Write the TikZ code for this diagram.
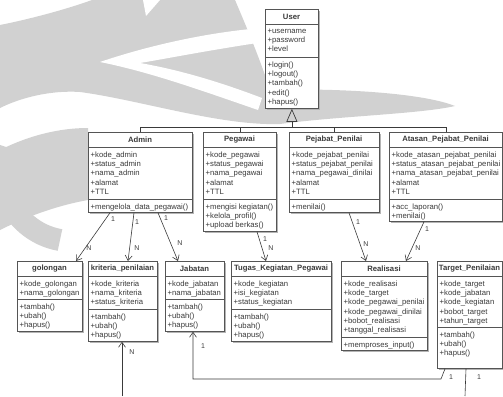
\documentclass[tikz,border=0pt]{standalone}
\usepackage{fontspec}
\setmainfont{Liberation Sans}
\usetikzlibrary{arrows.meta,calc}

\definecolor{wm}{gray}{0.82}
\definecolor{boxline}{HTML}{555555}
\definecolor{txt}{HTML}{3A3A3A}
\definecolor{shadowc}{HTML}{B4B4B4}

\tikzset{
  classbox/.style={draw=boxline, line width=0.8pt, fill=white, inner sep=0pt, anchor=north west},
  titletext/.style={font=\fontsize{7.7}{9}\selectfont\bfseries, text=txt, inner sep=0pt},
  membertext/.style={font=\fontsize{7.7}{9.3}\selectfont, text=txt, align=left, inner sep=0pt, anchor=north west},
  assoc/.style={draw=txt, line width=0.6pt, -{Straight Barb[length=5pt,width=7pt]}},
  plainlink/.style={draw=txt, line width=0.6pt},
  genlink/.style={draw=txt, line width=0.7pt},
  gentip/.style={draw=txt, line width=0.7pt, -{Triangle[open,length=13pt,width=11pt]}},
  mult/.style={font=\fontsize{7}{8}\selectfont, text=txt, inner sep=0pt},
}

% class box: id, x, y, width, attribute height, operation height, name, attributes, operations
\newcommand{\umlclass}[9]{%
  \pgfmathsetmacro\classtot{15+#5+#6}%
  \fill[shadowc] (#2+2,#3+2) rectangle ++(#4,\classtot);
  \node[classbox, minimum width=#4pt, minimum height=\classtot pt] (#1) at (#2,#3) {};
  \draw[boxline, line width=0.8pt] (#2,#3+15) -- ++(#4,0);
  \draw[boxline, line width=0.8pt] (#2,#3+15+#5) -- ++(#4,0);
  \node[titletext] (#1-name) at (#2+#4/2,#3+8) {#7};
  \node[membertext] (#1-attr) at (#2+2.5,#3+19.5) {#8};
  \node[membertext] (#1-ops) at (#2+2.5,#3+19.5+#5) {#9};
}

\begin{document}
\begin{tikzpicture}[x=1pt,y=-1pt]
\useasboundingbox (0,0) rectangle (503,396);

% faint logo in the background
\begin{scope}
\fill[wm] (0,25) .. controls (35,18) and (70,8) .. (92,0) -- (235,0)
  .. controls (250,35) and (262,65) .. (270,90)
  .. controls (330,88) and (420,92) .. (455,106)
  .. controls (420,114) and (340,116) .. (280,124)
  .. controls (220,126) and (140,100) .. (80,92)
  .. controls (50,90) and (20,98) .. (0,108) -- cycle;
\fill[white] (100,62) .. controls (150,45) and (210,32) .. (262,28) -- (264,42)
  .. controls (210,50) and (170,58) .. (140,63)
  .. controls (180,70) and (220,82) .. (262,98) -- (258,110)
  .. controls (200,90) and (150,72) .. (100,62) -- cycle;
\fill[white] (143,0) -- (146,16) -- (160,0) -- cycle;
\fill[wm] (0,150) .. controls (30,135) and (60,128) .. (88,128) -- (88,200)
  .. controls (60,205) and (30,215) .. (0,230) -- cycle;
\draw[wm, line width=22pt] (60,240) arc[start angle=100, end angle=200, radius=70];
\end{scope}

\umlclass{user}{265}{9}{53}{33}{51}{User}
  {+username\\+password\\+level}
  {+login()\\+logout()\\+tambah()\\+edit()\\+hapus()}

\umlclass{admin}{88}{132}{104}{52}{13}{Admin}
  {+kode\_admin\\+status\_admin\\+nama\_admin\\+alamat\\+TTL}
  {+mengelola\_data\_pegawai()}
\umlclass{pegawai}{203}{132}{73}{52}{32}{Pegawai}
  {+kode\_pegawai\\+status\_pegawai\\+nama\_pegawai\\+alamat\\+TTL}
  {+mengisi kegiatan()\\+kelola\_profil()\\+upload berkas()}
\umlclass{pejabat}{289}{132}{90}{52}{13}{Pejabat\_Penilai}
  {+kode\_pejabat\_penilai\\+status\_pejabat\_penilai\\+nama\_pegawai\_dinilai\\+alamat\\+TTL}
  {+menilai()}
\umlclass{atasan}{389}{132}{113}{52}{22}{Atasan\_Pejabat\_Penilai}
  {+kode\_atasan\_pejabat\_penilai\\+status\_atasan\_pejabat\_penilai\\+nama\_atasan\_pejabat\_penilai\\+alamat\\+TTL}
  {+acc\_laporan()\\+menilai()}

\umlclass{golongan}{17}{261}{65}{23}{32}{golongan}
  {+kode\_golongan\\+nama\_golongan}
  {+tambah()\\+ubah()\\+hapus()}
\umlclass{kriteria}{88}{261}{69}{33}{32}{kriteria\_penilaian}
  {+kode\_kriteria\\+nama\_kriteria\\+status\_kriteria}
  {+tambah()\\+ubah()\\+hapus()}
\umlclass{jabatan}{165}{261}{59}{23}{32}{Jabatan}
  {+kode\_jabatan\\+nama\_jabatan}
  {+tambah()\\+ubah()\\+hapus()}
\umlclass{tugas}{231}{261}{100}{33}{32}{Tugas\_Kegiatan\_Pegawai}
  {+kode\_kegiatan\\+isi\_kegiatan\\+status\_kegiatan}
  {+tambah()\\+ubah()\\+hapus()}
\umlclass{realisasi}{341}{261}{86}{61}{13}{Realisasi}
  {+kode\_realisasi\\+kode\_target\\+kode\_pegawai\_penilai\\+kode\_pegawai\_dinilai\\+bobot\_realisasi\\+tanggal\_realisasi}
  {+memproses\_input()}
\umlclass{target}{437}{261}{65}{51}{41}{Target\_Penilaian}
  {+kode\_target\\+kode\_jabatan\\+kode\_kegiatan\\+bobot\_target\\+tahun\_target}
  {+tambah()\\+ubah()\\+hapus()}

% generalisation tree
\coordinate (bus) at ($(user.south)+(0,19)$);
\draw[genlink] (admin.north) |- (bus);
\draw[genlink] (pegawai.north) |- (bus);
\draw[genlink] (pejabat.north) |- (bus);
\draw[genlink] (atasan.north) |- (bus);
\draw[gentip] (bus) -- (user.south);

% associations
\draw[assoc] (admin.south -| 110,0) -- (golongan.north -| 76,0);
\draw[assoc] (admin.south -| 134,0) -- (kriteria.north -| 128,0);
\draw[assoc] (admin.south -| 158,0) -- (jabatan.north -| 178,0);
\draw[assoc] (pegawai.south -| 257,0) -- (tugas.north -| 266,0);
\draw[assoc] (pejabat.south -| 349,0) -- (realisasi.north -| 366,0);
\draw[assoc] (atasan.south -| 424,0) -- (realisasi.north -| 406,0);

\coordinate (tgtcorner) at (441,379);
\coordinate (jabcorner) at (193,379);
\draw[assoc] (target.south -| 445,0) -- (tgtcorner) -- (jabcorner) -- (jabatan.south -| 193,0);

\coordinate (tgtend) at (465,396);
\draw[plainlink] (target.south -| 466,0) -- (tgtend);
\coordinate (krtend) at (122,396);
\draw[assoc] (krtend) -- (kriteria.south -| 122,0);

% multiplicities
\node[mult] at (113,219) {1};
\node[mult] at (89,248) {N};
\node[mult] at (137,222) {1};
\node[mult] at (137,248) {N};
\node[mult] at (166,218) {1};
\node[mult] at (180,243) {N};
\node[mult] at (265,239) {1};
\node[mult] at (271,248) {N};
\node[mult] at (358,222) {1};
\node[mult] at (366,244) {N};
\node[mult] at (427,229) {1};
\node[mult] at (418,248) {N};
\node[mult] at (203,346) {1};
\node[mult] at (451,377) {1};
\node[mult] at (479,377) {1};
\node[mult] at (132,352) {N};
\end{tikzpicture}
\end{document}
